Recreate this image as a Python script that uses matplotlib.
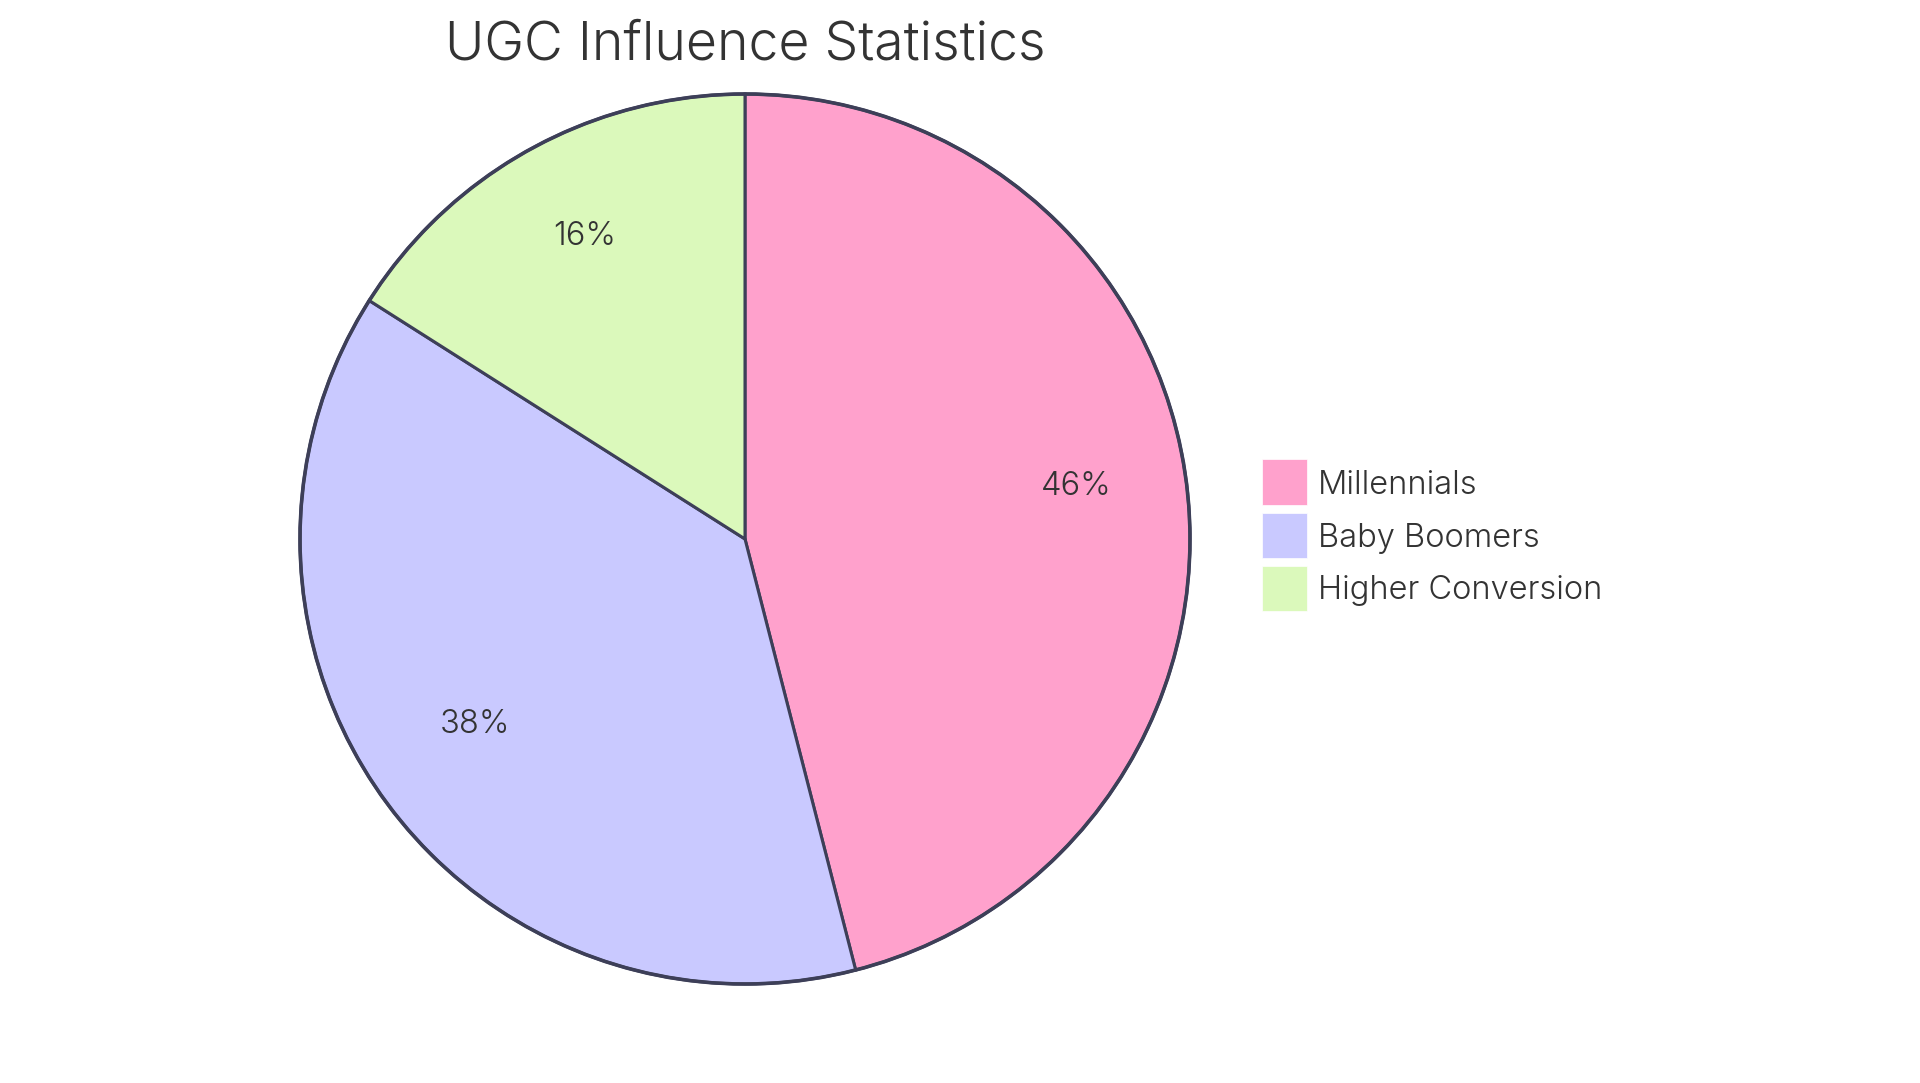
import numpy as np
import matplotlib.pyplot as plt
from matplotlib.patches import Rectangle, Circle

# data
labels = ['Millennials', 'Baby Boomers', 'Higher Conversion']
values = [46, 38, 16]
colors = ['#FFA1CC', '#C9C9FF', '#DBF9BB']
title = 'UGC Influence Statistics'

W, H = 1920, 1083
plt.rcParams['font.family'] = ['Inter', 'DejaVu Sans']
text_color = '#333333'
edge_color = '#3d3f58'

fig = plt.figure(figsize=(W / 100, H / 100), dpi=100)

# pie: center (745, 540) px, radius 445 px, with a small pad for the outline
cx, cy, r = 745, 539, 445
pad = 1.02
ax = fig.add_axes([(cx - r * pad) / W, (H - cy - r * pad) / H, 2 * r * pad / W, 2 * r * pad / H])
wedges, _, autotexts = ax.pie(values, colors=colors, startangle=90, counterclock=False,
                              radius=1, autopct='%1.0f%%', pctdistance=0.75,
                              wedgeprops=dict(edgecolor=edge_color, linewidth=2.2),
                              textprops=dict(fontsize=23.5, color=text_color, fontweight=300))
ax.add_patch(Circle((0, 0), 1, fill=False, edgecolor=edge_color, linewidth=2.6))
for t in autotexts:
    x, y = t.get_position()
    t.set_position((x, y + 0.023))
ax.set_xlim(-pad, pad)
ax.set_ylim(-pad, pad)
ax.set_aspect('equal')
ax.axis('off')

fig.text(cx / W, 1 - 60 / H, title, ha='center', va='baseline',
         fontsize=38.5, color=text_color, fontweight=300)

# legend
sq = 45
for i, (lab, col) in enumerate(zip(labels, colors)):
    yc = 482 + i * 53
    fig.patches.append(Rectangle((1262 / W, 1 - (yc + sq / 2) / H), sq / W, sq / H,
                                 transform=fig.transFigure, facecolor=col,
                                 edgecolor='white', linewidth=0.5))
    fig.text(1318 / W, 1 - (yc + 11.5) / H, lab, ha='left', va='baseline',
             fontsize=23.5, color=text_color, fontweight=300)

plt.savefig('out.png', dpi=100)
